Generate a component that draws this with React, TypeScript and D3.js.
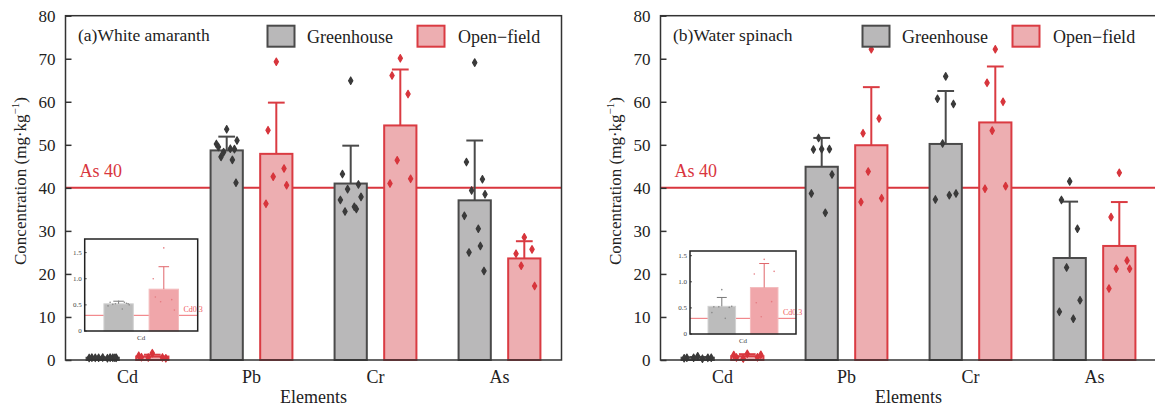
import React, { useEffect, useRef } from "react";
import * as d3 from "d3";

const ELEMENTS = ["Cd", "Pb", "Cr", "As"];
const GROUPS = ["Greenhouse", "Open−field"];
const Y_TICKS = [0, 10, 20, 30, 40, 50, 60, 70, 80];
const INSET_TICKS = [0, 0.5, 1.0, 1.5];
const AS_LIMIT = 40;
const CD_LIMIT = 0.3;

// (a) White amaranth
const A_GH_MEAN = [0.52, 48.7, 41.0, 37.1];
const A_GH_SD = [0.05, 3.2, 8.8, 13.9];
const A_OF_MEAN = [0.8, 47.9, 54.5, 23.6];
const A_OF_SD = [0.43, 11.9, 13.0, 4.0];
const A_GH_POINTS = [
  [0.57, 0.55, 0.53, 0.52, 0.5, 0.48, 0.42, 0.55, 0.51, 0.52],
  [53.6, 49.5, 49.0, 48.3, 51.0, 50.2, 49.1, 46.5, 47.2, 41.2],
  [64.9, 43.2, 40.8, 39.7, 37.9, 37.2, 35.6, 35.1, 34.5],
  [69.1, 46.0, 42.0, 39.4, 38.5, 33.5, 30.5, 26.5, 25.0, 20.7],
];
const A_OF_POINTS = [
  [1.59, 0.65, 0.6, 0.56, 0.4, 1.0],
  [69.3, 53.4, 44.5, 42.6, 40.6, 36.3],
  [70.1, 66.1, 61.8, 46.4, 42.1, 41.0],
  [28.5, 24.7, 25.7, 21.9, 17.2],
];

// (b) Water spinach
const B_GH_MEAN = [0.53, 44.9, 50.2, 23.7];
const B_GH_SD = [0.17, 6.7, 12.3, 13.1];
const B_OF_MEAN = [0.89, 49.9, 55.2, 26.5];
const B_OF_SD = [0.46, 13.5, 13.0, 10.2];
const B_GH_POINTS = [
  [0.85, 0.52, 0.51, 0.52, 0.53, 0.41, 0.3],
  [49.0, 48.9, 49.0, 51.6, 43.1, 38.7, 34.2],
  [65.9, 60.7, 59.5, 50.3, 38.7, 37.3, 38.3],
  [41.5, 37.2, 30.5, 21.5, 13.9, 11.2, 9.6],
];
const B_OF_POINTS = [
  [1.43, 0.6, 0.62, 0.33, 1.2, 1.15],
  [72.2, 52.7, 56.1, 43.8, 37.6, 36.7],
  [72.2, 64.4, 60.0, 53.3, 40.4, 39.8],
  [43.5, 33.2, 23.1, 21.2, 21.2, 16.6],
];

const FONT = "'Liberation Serif', 'Times New Roman', serif";
const RED = "#d9363e";
const GH_FILL = "#b9b8b9";
const GH_STROKE = "#4a4a4a";
const OF_FILL = "#edaeb1";
const OF_STROKE = "#da3b42";
const JITTER = [0, -0.32, 0.3, -0.12, 0.4, -0.4, 0.14, 0.22, -0.22, 0.36];

const W = 496;
const TOP = 15.7;
const BOTTOM = 360;

const diamond = d3.symbol().type(d3.symbolDiamond).size(16)();

function Panel({ tx, title, ghMean, ghSd, ofMean, ofSd, ghPts, ofPts, inset }) {
  const yAxisRef = useRef(null);
  const x = d3.scalePoint().domain(ELEMENTS).range([0, W]).padding(0.5);
  const y = d3.scaleLinear().domain([0, 80]).range([BOTTOM, TOP]);
  const s = x.step();
  const sub = d3
    .scaleBand()
    .domain(GROUPS)
    .range([-0.4 * s, 0.4 * s])
    .paddingInner(0.35)
    .paddingOuter(0.175);
  const bw = sub.bandwidth();

  useEffect(() => {
    const g = d3.select(yAxisRef.current);
    g.selectAll("*").remove();
    g.call(
      d3.axisLeft(y).tickValues(Y_TICKS).tickSizeInner(-6).tickSizeOuter(0).tickPadding(10)
    );
    g.select(".domain").remove();
    g.selectAll("text").attr("font-size", 17).attr("font-family", FONT).attr("fill", "#222");
    g.selectAll("line").attr("stroke", "#333").attr("stroke-width", 1.5);
  }, []);

  const series = [
    { mean: ghMean, sd: ghSd, pts: ghPts, fill: GH_FILL, stroke: GH_STROKE, dot: "#3a3a3a", g: GROUPS[0] },
    { mean: ofMean, sd: ofSd, pts: ofPts, fill: OF_FILL, stroke: OF_STROKE, dot: "#d7353c", g: GROUPS[1] },
  ];

  // inset scales
  const iy = d3.scaleLinear().domain([0, inset.max]).range([inset.h, 0]);
  const isub = d3
    .scaleBand()
    .domain(GROUPS)
    .range([0.1 * inset.w, 0.9 * inset.w])
    .paddingInner(0.35)
    .paddingOuter(0.175);
  const ibw = isub.bandwidth();
  const insetSeries = [
    { mean: ghMean[0], sd: ghSd[0], pts: ghPts[0], fill: "#bcbcbc", stroke: "#d2d2d2", err: "#7a7a7a", dot: "#8a8a8a", g: GROUPS[0] },
    { mean: ofMean[0], sd: ofSd[0], pts: ofPts[0], fill: "#f0a6aa", stroke: "#f3bcbe", err: "#e0666b", dot: "#e57b80", g: GROUPS[1] },
  ];

  return (
    <g transform={`translate(${tx},0)`} fontFamily={FONT}>
      {/* reference line */}
      <line x1={0} x2={W} y1={y(AS_LIMIT)} y2={y(AS_LIMIT)} stroke={RED} strokeWidth={2} />
      <text x={14} y={177} fontSize={18} fill={RED}>
        As 40
      </text>

      {/* bars */}
      {series.map((se) =>
        ELEMENTS.map((el, i) => {
          const cx = x(el) + sub(se.g) + bw / 2;
          return (
            <g key={se.g + el}>
              <rect
                x={cx - bw / 2}
                y={y(se.mean[i])}
                width={bw}
                height={BOTTOM - y(se.mean[i])}
                fill={se.fill}
                stroke={se.stroke}
                strokeWidth={2}
              />
              <line x1={cx} x2={cx} y1={y(se.mean[i])} y2={y(se.mean[i] + se.sd[i])} stroke={se.stroke} strokeWidth={2} />
              <line
                x1={cx - bw * 0.26}
                x2={cx + bw * 0.26}
                y1={y(se.mean[i] + se.sd[i])}
                y2={y(se.mean[i] + se.sd[i])}
                stroke={se.stroke}
                strokeWidth={2}
              />
            </g>
          );
        })
      )}

      {/* points */}
      {series.map((se) =>
        ELEMENTS.map((el, i) => {
          const cx = x(el) + sub(se.g) + bw / 2;
          return se.pts[i].map((v, j) => (
            <path
              key={se.g + el + j}
              d={diamond}
              transform={`translate(${cx + JITTER[j % JITTER.length] * bw * (i === 0 ? 1.05 : 0.8)},${y(v)})`}
              fill={se.dot}
              stroke={se.dot}
              strokeWidth={1.2}
              strokeLinejoin="round"
            />
          ));
        })
      )}

      {/* frame */}
      <rect x={0} y={TOP} width={W} height={BOTTOM - TOP} fill="none" stroke="#333" strokeWidth={1.5} />
      <g ref={yAxisRef} />

      {/* x labels */}
      {ELEMENTS.map((el) => (
        <text key={el} x={x(el)} y={383} textAnchor="middle" fontSize={18} fill="#222">
          {el}
        </text>
      ))}
      <text x={W / 2} y={403} textAnchor="middle" fontSize={18} fill="#222">
        Elements
      </text>
      <text transform={`translate(-40,${181}) rotate(-90)`} textAnchor="middle" fontSize={17} fill="#222">
        Concentration (mg·kg
        <tspan dy={-7} fontSize={11}>
          −1
        </tspan>
        <tspan dy={7}>)</tspan>
      </text>

      {/* title and legend */}
      <text x={12.5} y={41} fontSize={17.5} fill="#222">
        {title}
      </text>
      <rect x={202} y={25.7} width={27} height={21} fill={GH_FILL} stroke={GH_STROKE} strokeWidth={2} />
      <text x={241.5} y={42.5} fontSize={18} fill="#222">
        {GROUPS[0]}
      </text>
      <rect x={352} y={25.7} width={27} height={21} fill={OF_FILL} stroke={OF_STROKE} strokeWidth={2} />
      <text x={392.5} y={42.5} fontSize={18} fill="#222">
        {GROUPS[1]}
      </text>

      {/* inset for Cd */}
      <g transform={`translate(${inset.x},${inset.y})`}>
        <rect x={0} y={0} width={inset.w} height={inset.h} fill="#fff" />
        <line x1={0} x2={inset.w} y1={iy(CD_LIMIT)} y2={iy(CD_LIMIT)} stroke="#ef7075" strokeWidth={1} />
        {insetSeries.map((se) => {
          const cx = isub(se.g) + ibw / 2;
          return (
            <g key={se.g}>
              <rect x={cx - ibw / 2} y={iy(se.mean)} width={ibw} height={inset.h - iy(se.mean)} fill={se.fill} stroke={se.stroke} strokeWidth={1} />
              <line x1={cx} x2={cx} y1={iy(se.mean)} y2={iy(se.mean + se.sd)} stroke={se.err} strokeWidth={1} />
              <line x1={cx - ibw * 0.18} x2={cx + ibw * 0.18} y1={iy(se.mean + se.sd)} y2={iy(se.mean + se.sd)} stroke={se.err} strokeWidth={1} />
              {se.pts.map((v, j) => (
                <circle key={j} cx={cx + JITTER[j % JITTER.length] * ibw * 0.9} cy={iy(v)} r={0.8} fill={se.dot} />
              ))}
            </g>
          );
        })}
        <text x={isub(GROUPS[1]) + ibw + 5} y={iy(CD_LIMIT) - 3} fontSize={8} fill="#ef5a60">
          Cd0.3
        </text>
        <rect x={0} y={0} width={inset.w} height={inset.h} fill="none" stroke="#222" strokeWidth={1.5} />
        {INSET_TICKS.map((t) => (
          <g key={t}>
            <line x1={0} x2={2} y1={iy(t)} y2={iy(t)} stroke="#222" strokeWidth={0.8} />
            <text x={-3} y={iy(t)} dy="0.32em" textAnchor="end" fontSize={7} fill="#444">
              {t === 0 ? "0" : d3.format(".1f")(t)}
            </text>
          </g>
        ))}
        <text x={inset.w / 2} y={inset.h + 9} textAnchor="middle" fontSize={7} fill="#444">
          Cd
        </text>
      </g>
    </g>
  );
}

export default function App() {
  return (
    <svg
      width={1155}
      height={407}
      style={{ position: "absolute", left: 0, top: 0, background: "#fff" }}
    >
      <Panel
        tx={65.5}
        title="(a)White amaranth"
        ghMean={A_GH_MEAN}
        ghSd={A_GH_SD}
        ofMean={A_OF_MEAN}
        ofSd={A_OF_SD}
        ghPts={A_GH_POINTS}
        ofPts={A_OF_POINTS}
        inset={{ x: 19.2, y: 239, w: 113, h: 92, max: 1.76 }}
      />
      <Panel
        tx={660.5}
        title="(b)Water spinach"
        ghMean={B_GH_MEAN}
        ghSd={B_GH_SD}
        ofMean={B_OF_MEAN}
        ofSd={B_OF_SD}
        ghPts={B_GH_POINTS}
        ofPts={B_OF_POINTS}
        inset={{ x: 29.5, y: 251, w: 106, h: 83, max: 1.59 }}
      />
    </svg>
  );
}
